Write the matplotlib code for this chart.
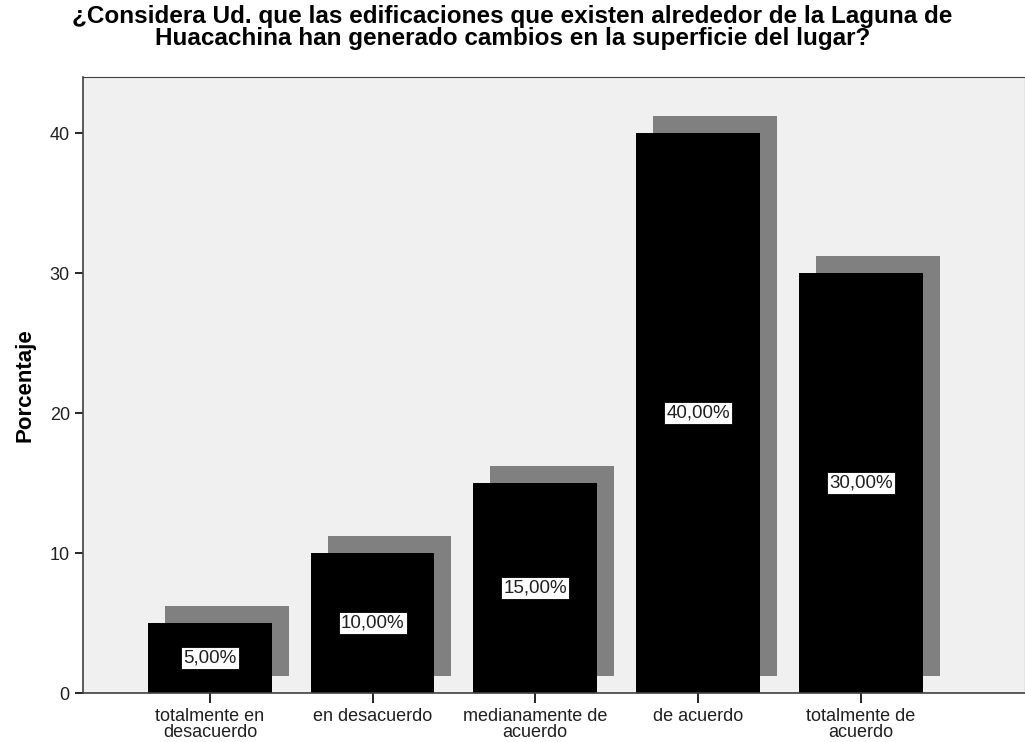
import matplotlib.pyplot as plt
import matplotlib.transforms as mtransforms

categorias = ["totalmente en\ndesacuerdo", "en desacuerdo", "medianamente de\nacuerdo",
              "de acuerdo", "totalmente de\nacuerdo"]
porcentajes = [5, 10, 15, 40, 30]
etiquetas = ["5,00%", "10,00%", "15,00%", "40,00%", "30,00%"]

plt.rcParams['font.family'] = ['Liberation Sans', 'DejaVu Sans']

fig = plt.figure(figsize=(10.25, 7.42), dpi=100)
ax = fig.add_axes([83 / 1025, 1 - 693 / 742, (1025 - 83) / 1025, (693 - 77) / 742])
ax.set_facecolor('#f0f0f0')

x = list(range(len(porcentajes)))

# sombra (efecto 3D) desplazada a la derecha y hacia arriba
sombra = mtransforms.offset_copy(ax.transData, fig=fig, x=17, y=17, units='dots')
ax.bar(x, porcentajes, width=0.76, color='#808080', transform=sombra, zorder=1)
ax.bar(x, porcentajes, width=0.76, color='black', zorder=2)

for xi, v, t in zip(x, porcentajes, etiquetas):
    ax.text(xi, v / 2, t, ha='center', va='center', fontsize=13.5, color='#202020', zorder=3,
            bbox=dict(boxstyle='square,pad=0.12', facecolor='white', edgecolor='black', linewidth=0.6))

ax.set_xlim(-0.78, 5.01)
ax.set_ylim(0, 44)
ax.set_yticks([0, 10, 20, 30, 40])
ax.set_xticks(x)
ax.set_xticklabels(categorias, fontsize=13, linespacing=0.9, color='#202020')
ax.tick_params(axis='y', labelsize=13, length=6, width=1.2, labelcolor='#202020')
ax.tick_params(axis='x', length=7, width=1.2, pad=4)

for s in ax.spines.values():
    s.set_color('#404040')
    s.set_linewidth(0.8)
ax.spines['left'].set_linewidth(1.2)
ax.spines['bottom'].set_linewidth(1.2)

ax.set_ylabel("Porcentaje", fontsize=16, fontweight='bold', labelpad=10)
fig.suptitle("¿Considera Ud. que las edificaciones que existen alrededor de la Laguna de\n"
             "Huacachina han generado cambios en la superficie del lugar?",
             fontsize=17.5, fontweight='bold', y=1 - 5 / 742, va='top', linespacing=0.92)

fig.savefig("out.png", dpi=100)
